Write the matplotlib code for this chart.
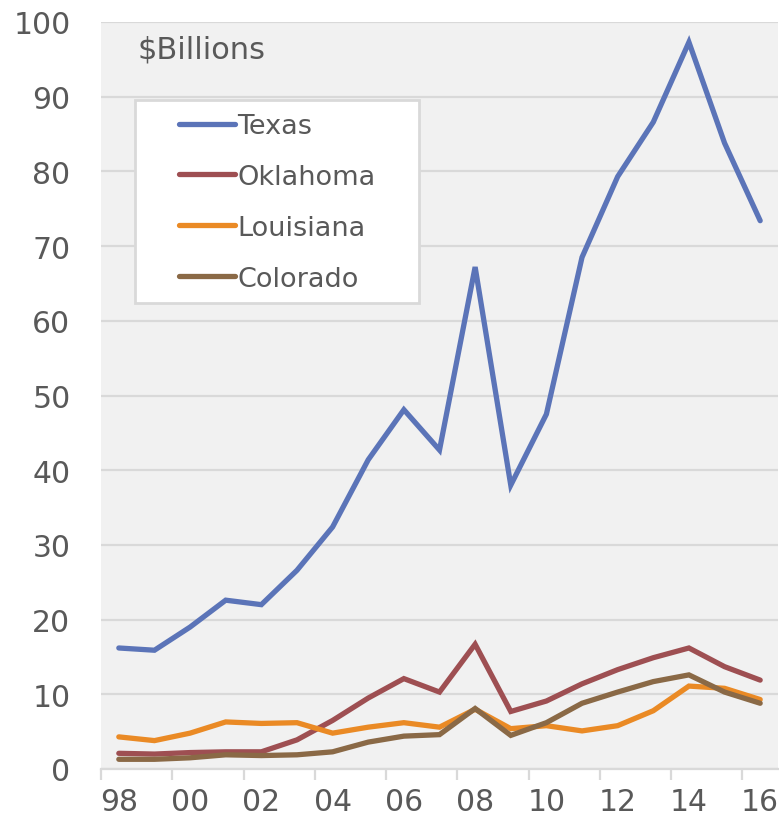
import matplotlib

matplotlib.use("Agg")
import matplotlib.pyplot as plt
import numpy as np
from matplotlib.patches import Rectangle

years = list(range(1998, 2017))
tick_labels = [f"{y % 100:02d}" for y in years]

texas = [16.2, 15.9, 19.0, 22.6, 22.0, 26.6, 32.4, 41.4, 48.1, 42.7,
         67.2, 38.0, 47.5, 68.5, 79.3, 86.6, 97.3, 83.8, 73.4]
oklahoma = [2.1, 2.0, 2.2, 2.3, 2.3, 3.9, 6.5, 9.5, 12.1, 10.3,
            16.7, 7.7, 9.1, 11.4, 13.3, 14.9, 16.2, 13.7, 11.9]
louisiana = [4.3, 3.8, 4.8, 6.3, 6.1, 6.2, 4.8, 5.6, 6.2, 5.6,
             8.0, 5.4, 5.8, 5.1, 5.8, 7.8, 11.1, 10.8, 9.3]
colorado = [1.3, 1.3, 1.5, 1.9, 1.8, 1.9, 2.3, 3.6, 4.4, 4.6,
            8.1, 4.5, 6.2, 8.8, 10.3, 11.7, 12.6, 10.3, 8.8]

series = [
    ("Texas", texas, "#5B74B8"),
    ("Oklahoma", oklahoma, "#9E4F52"),
    ("Louisiana", louisiana, "#EA8A25"),
    ("Colorado", colorado, "#8A6946"),
]

TEXT = "#595959"
GRID = "#D9D9D9"

plt.rcParams["font.family"] = "DejaVu Sans"

W, H = 779, 828
fig = plt.figure(figsize=(W / 100, H / 100), dpi=100)
ax = fig.add_axes([101 / W, (H - 770) / H, 677 / W, 747 / H])
ax.set_facecolor("#F1F1F1")

x = np.arange(len(years))
for name, vals, color in series:
    ax.plot(x, vals, color=color, lw=3.8, label=name, solid_capstyle="round",
            solid_joinstyle="miter", zorder=3)

ax.set_xlim(-0.5, len(years) - 0.5)
ax.set_ylim(0, 100)
ax.set_yticks(np.arange(0, 101, 10))
ax.yaxis.grid(True, color=GRID, lw=1.6)
ax.set_axisbelow(True)

ax.set_xticks(x[::2])
ax.set_xticklabels(tick_labels[::2])
ax.set_xticks(np.arange(-0.5, len(years) - 1, 2), minor=True)
ax.tick_params(axis="x", which="major", length=0, pad=13, labelsize=21.5, colors=TEXT)
ax.tick_params(axis="x", which="minor", length=8, width=1.6, color=GRID)
ax.tick_params(axis="y", length=0, pad=22, labelsize=21.5, colors=TEXT)

for side in ("left", "right", "top"):
    ax.spines[side].set_visible(False)
ax.spines["bottom"].set_color(GRID)
ax.spines["bottom"].set_linewidth(1.6)

ax.text((138 - 101) / 677, (770 - 50) / 747, "$Billions", transform=ax.transAxes,
        fontsize=22, color=TEXT, va="center", ha="left")

# legend box drawn separately so padding can match the original
box = Rectangle(((135 - 101) / 677, (770 - 304) / 747), (419 - 135) / 677, (304 - 101) / 747,
                transform=ax.transAxes, facecolor="white", edgecolor=GRID, lw=2, zorder=4)
ax.add_patch(box)
leg = ax.legend(loc="upper left", bbox_to_anchor=((179 - 101) / 677, (770 - 114) / 747),
                frameon=False, fontsize=19.5, handlelength=2.05, handletextpad=0.1,
                labelspacing=0.92, borderpad=0, borderaxespad=0)
leg.set_zorder(5)
for t in leg.get_texts():
    t.set_color(TEXT)

fig.savefig("out.png", dpi=100)
